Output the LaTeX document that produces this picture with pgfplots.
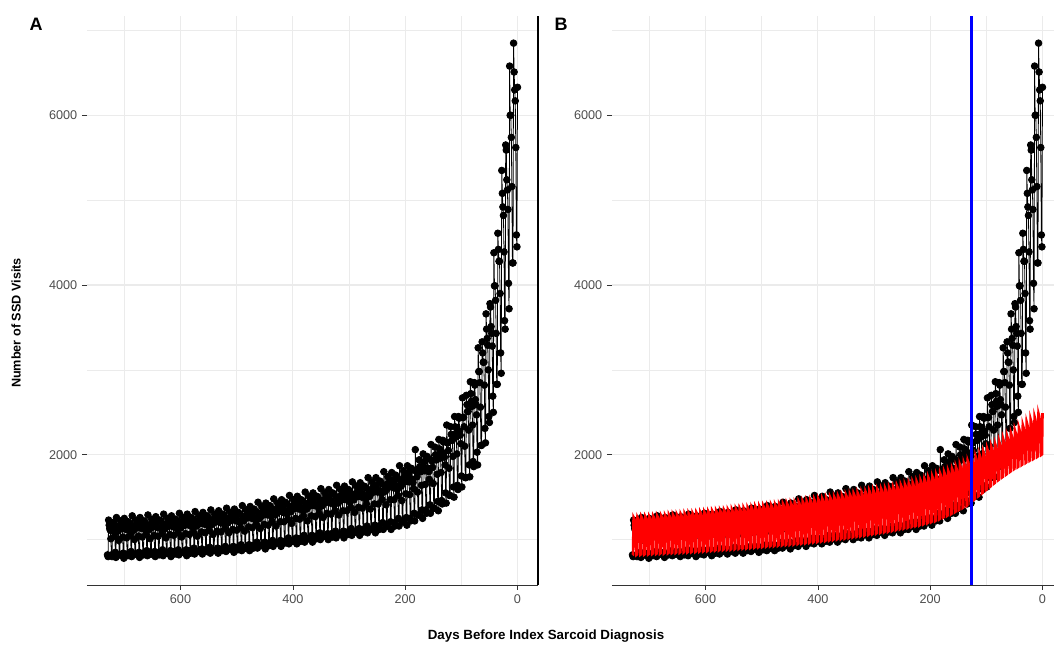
\documentclass[border=0pt]{standalone}
\usepackage{pgfplots}
\pgfplotsset{compat=1.18}
\usepackage{pgfplotstable}
\usepackage{fontspec}
\setmainfont{Liberation Sans}
\definecolor{gridgray}{RGB}{235,235,235}
\definecolor{ticktext}{RGB}{77,77,77}
\definecolor{axisgray}{RGB}{51,51,51}
% observed daily visits, day 730 ... day 0 (one week per row, Mon..Sun)
\pgfplotstableread[row sep=\\]{
v\\
820\\ 800\\
1230\\ 1170\\ 1130\\ 1110\\ 1010\\ 820\\ 800\\
1200\\ 1190\\ 1110\\ 1090\\ 1040\\ 850\\ 790\\
1260\\ 1150\\ 1150\\ 1100\\ 990\\ 820\\ 820\\
1220\\ 1170\\ 1130\\ 1130\\ 1030\\ 840\\ 780\\
1250\\ 1180\\ 1150\\ 1120\\ 1020\\ 830\\ 810\\
1210\\ 1200\\ 1130\\ 1100\\ 1050\\ 860\\ 800\\
1280\\ 1160\\ 1160\\ 1110\\ 1000\\ 830\\ 830\\
1230\\ 1180\\ 1140\\ 1140\\ 1040\\ 850\\ 790\\
1260\\ 1190\\ 1150\\ 1130\\ 1030\\ 840\\ 820\\
1220\\ 1210\\ 1130\\ 1110\\ 1060\\ 870\\ 810\\
1290\\ 1170\\ 1170\\ 1120\\ 1010\\ 830\\ 830\\
1240\\ 1190\\ 1150\\ 1150\\ 1050\\ 860\\ 800\\
1270\\ 1200\\ 1160\\ 1140\\ 1040\\ 850\\ 820\\
1230\\ 1220\\ 1140\\ 1120\\ 1070\\ 880\\ 810\\
1300\\ 1180\\ 1180\\ 1130\\ 1020\\ 840\\ 840\\
1250\\ 1200\\ 1160\\ 1160\\ 1060\\ 870\\ 800\\
1280\\ 1220\\ 1180\\ 1150\\ 1050\\ 860\\ 830\\
1240\\ 1230\\ 1150\\ 1130\\ 1080\\ 880\\ 820\\
1310\\ 1200\\ 1200\\ 1140\\ 1030\\ 850\\ 850\\
1260\\ 1210\\ 1170\\ 1170\\ 1070\\ 880\\ 810\\
1300\\ 1230\\ 1190\\ 1170\\ 1060\\ 870\\ 840\\
1260\\ 1250\\ 1170\\ 1140\\ 1090\\ 900\\ 830\\
1330\\ 1210\\ 1210\\ 1160\\ 1040\\ 860\\ 860\\
1280\\ 1230\\ 1190\\ 1190\\ 1090\\ 890\\ 830\\
1320\\ 1250\\ 1210\\ 1180\\ 1080\\ 880\\ 860\\
1280\\ 1270\\ 1190\\ 1160\\ 1110\\ 910\\ 840\\
1350\\ 1230\\ 1230\\ 1180\\ 1060\\ 870\\ 870\\
1300\\ 1250\\ 1210\\ 1210\\ 1100\\ 900\\ 840\\
1340\\ 1270\\ 1230\\ 1200\\ 1090\\ 890\\ 870\\
1300\\ 1290\\ 1210\\ 1180\\ 1130\\ 920\\ 860\\
1370\\ 1250\\ 1250\\ 1200\\ 1080\\ 890\\ 890\\
1320\\ 1270\\ 1230\\ 1230\\ 1120\\ 920\\ 850\\
1360\\ 1290\\ 1250\\ 1220\\ 1110\\ 910\\ 880\\
1320\\ 1310\\ 1220\\ 1200\\ 1140\\ 940\\ 870\\
1400\\ 1270\\ 1270\\ 1220\\ 1100\\ 900\\ 900\\
1350\\ 1300\\ 1260\\ 1260\\ 1150\\ 940\\ 870\\
1390\\ 1320\\ 1280\\ 1250\\ 1140\\ 930\\ 900\\
1360\\ 1340\\ 1260\\ 1230\\ 1180\\ 970\\ 900\\
1440\\ 1310\\ 1310\\ 1250\\ 1130\\ 930\\ 930\\
1390\\ 1330\\ 1290\\ 1290\\ 1180\\ 970\\ 890\\
1430\\ 1360\\ 1320\\ 1290\\ 1170\\ 960\\ 930\\
1400\\ 1380\\ 1300\\ 1270\\ 1210\\ 990\\ 920\\
1480\\ 1350\\ 1350\\ 1290\\ 1160\\ 960\\ 960\\
1430\\ 1370\\ 1330\\ 1330\\ 1210\\ 990\\ 920\\
1470\\ 1400\\ 1350\\ 1320\\ 1210\\ 980\\ 960\\
1440\\ 1420\\ 1330\\ 1300\\ 1240\\ 1020\\ 950\\
1520\\ 1390\\ 1390\\ 1330\\ 1190\\ 980\\ 980\\
1470\\ 1410\\ 1370\\ 1370\\ 1250\\ 1020\\ 950\\
1510\\ 1430\\ 1390\\ 1360\\ 1240\\ 1010\\ 980\\
1470\\ 1460\\ 1370\\ 1340\\ 1280\\ 1050\\ 970\\
1560\\ 1420\\ 1420\\ 1360\\ 1220\\ 1010\\ 1010\\
1510\\ 1450\\ 1400\\ 1400\\ 1280\\ 1050\\ 970\\
1550\\ 1470\\ 1430\\ 1400\\ 1270\\ 1040\\ 1010\\
1510\\ 1500\\ 1400\\ 1370\\ 1310\\ 1080\\ 1000\\
1600\\ 1460\\ 1460\\ 1400\\ 1260\\ 1040\\ 1040\\
1550\\ 1490\\ 1440\\ 1440\\ 1310\\ 1070\\ 1000\\
1590\\ 1510\\ 1460\\ 1430\\ 1300\\ 1070\\ 1030\\
1550\\ 1540\\ 1440\\ 1410\\ 1340\\ 1100\\ 1020\\
1640\\ 1500\\ 1500\\ 1430\\ 1290\\ 1060\\ 1060\\
1590\\ 1520\\ 1470\\ 1470\\ 1340\\ 1100\\ 1020\\
1630\\ 1550\\ 1500\\ 1470\\ 1340\\ 1090\\ 1060\\
1590\\ 1570\\ 1480\\ 1440\\ 1380\\ 1130\\ 1050\\
1680\\ 1530\\ 1530\\ 1470\\ 1320\\ 1090\\ 1090\\
1630\\ 1560\\ 1510\\ 1510\\ 1380\\ 1130\\ 1050\\
1670\\ 1590\\ 1540\\ 1500\\ 1370\\ 1120\\ 1090\\
1630\\ 1620\\ 1520\\ 1480\\ 1420\\ 1160\\ 1080\\
1730\\ 1580\\ 1580\\ 1510\\ 1360\\ 1120\\ 1120\\
1680\\ 1610\\ 1560\\ 1560\\ 1420\\ 1170\\ 1080\\
1730\\ 1640\\ 1590\\ 1560\\ 1420\\ 1160\\ 1120\\
1690\\ 1680\\ 1570\\ 1540\\ 1470\\ 1200\\ 1120\\
1800\\ 1640\\ 1640\\ 1570\\ 1410\\ 1160\\ 1160\\
1740\\ 1670\\ 1620\\ 1620\\ 1470\\ 1210\\ 1120\\
1790\\ 1700\\ 1650\\ 1610\\ 1470\\ 1200\\ 1160\\
1760\\ 1740\\ 1630\\ 1590\\ 1520\\ 1250\\ 1160\\
1870\\ 1700\\ 1700\\ 1630\\ 1460\\ 1210\\ 1210\\
1810\\ 1740\\ 1680\\ 1680\\ 1540\\ 1260\\ 1170\\
1870\\ 1780\\ 1720\\ 1680\\ 1530\\ 1250\\ 1220\\
1840\\ 1820\\ 1710\\ 1670\\ 1600\\ 1310\\ 1220\\
2060\\ 1810\\ 1810\\ 1740\\ 1560\\ 1290\\ 1290\\
1940\\ 1860\\ 1800\\ 1800\\ 1640\\ 1350\\ 1250\\
2010\\ 1910\\ 1850\\ 1810\\ 1650\\ 1350\\ 1310\\
1980\\ 1960\\ 1840\\ 1800\\ 1710\\ 1410\\ 1310\\
2120\\ 1930\\ 1930\\ 1850\\ 1660\\ 1370\\ 1370\\
2090\\ 2000\\ 1940\\ 1940\\ 1770\\ 1450\\ 1340\\
2180\\ 2070\\ 2010\\ 1960\\ 1790\\ 1460\\ 1420\\
2170\\ 2150\\ 2020\\ 1970\\ 1880\\ 1550\\ 1430\\
2350\\ 2140\\ 2140\\ 2050\\ 1840\\ 1520\\ 1520\\
2330\\ 2240\\ 2170\\ 2170\\ 1980\\ 1620\\ 1500\\
2450\\ 2330\\ 2250\\ 2210\\ 2010\\ 1640\\ 1590\\
2450\\ 2430\\ 2280\\ 2230\\ 2130\\ 1750\\ 1620\\
2670\\ 2440\\ 2440\\ 2330\\ 2100\\ 1730\\ 1730\\
2700\\ 2590\\ 2510\\ 2510\\ 2290\\ 1880\\ 1740\\
2860\\ 2720\\ 2630\\ 2570\\ 2350\\ 1920\\ 1860\\
2850\\ 2820\\ 2650\\ 2590\\ 2470\\ 2030\\ 1880\\
3260\\ 2980\\ 2980\\ 2850\\ 2560\\ 2110\\ 2110\\
3330\\ 3200\\ 3090\\ 3090\\ 2820\\ 2310\\ 2140\\
3660\\ 3480\\ 3370\\ 3290\\ 3000\\ 2450\\ 2380\\
3780\\ 3740\\ 3510\\ 3430\\ 3280\\ 2690\\ 2500\\
4380\\ 3990\\ 3990\\ 3820\\ 3430\\ 2830\\ 2830\\
4610\\ 4420\\ 4280\\ 4280\\ 3900\\ 3200\\ 2960\\
5350\\ 5080\\ 4920\\ 4820\\ 4390\\ 3580\\ 3480\\
5650\\ 5590\\ 5240\\ 5120\\ 4890\\ 4020\\ 3720\\
6580\\ 6000\\ 6000\\ 5740\\ 5160\\ 4260\\ 4260\\
6850\\ 6510\\ 6300\\ 6170\\ 5620\\ 4590\\ 4450\\
6330\\
}\obs
% expected (model) daily visits, day 730 ... day 0
\pgfplotstableread[row sep=\\]{
v\\
818\\ 823\\
1260\\ 1247\\ 1222\\ 1210\\ 1172\\ 820\\ 825\\
1262\\ 1249\\ 1224\\ 1212\\ 1174\\ 822\\ 827\\
1265\\ 1252\\ 1227\\ 1214\\ 1176\\ 825\\ 830\\
1267\\ 1254\\ 1229\\ 1216\\ 1178\\ 827\\ 832\\
1270\\ 1257\\ 1232\\ 1219\\ 1181\\ 830\\ 835\\
1274\\ 1261\\ 1236\\ 1223\\ 1185\\ 832\\ 837\\
1278\\ 1265\\ 1240\\ 1227\\ 1189\\ 835\\ 840\\
1281\\ 1268\\ 1243\\ 1230\\ 1191\\ 837\\ 842\\
1285\\ 1272\\ 1246\\ 1234\\ 1195\\ 840\\ 845\\
1289\\ 1276\\ 1250\\ 1237\\ 1199\\ 842\\ 847\\
1293\\ 1280\\ 1254\\ 1241\\ 1202\\ 845\\ 850\\
1296\\ 1283\\ 1257\\ 1244\\ 1205\\ 847\\ 852\\
1300\\ 1287\\ 1261\\ 1248\\ 1209\\ 850\\ 855\\
1304\\ 1291\\ 1265\\ 1252\\ 1213\\ 852\\ 857\\
1308\\ 1295\\ 1269\\ 1256\\ 1216\\ 855\\ 860\\
1311\\ 1298\\ 1272\\ 1259\\ 1219\\ 857\\ 862\\
1315\\ 1302\\ 1276\\ 1262\\ 1223\\ 860\\ 865\\
1320\\ 1307\\ 1280\\ 1267\\ 1228\\ 863\\ 868\\
1325\\ 1312\\ 1285\\ 1272\\ 1232\\ 866\\ 871\\
1330\\ 1317\\ 1290\\ 1277\\ 1237\\ 869\\ 874\\
1335\\ 1322\\ 1295\\ 1282\\ 1242\\ 873\\ 878\\
1339\\ 1326\\ 1299\\ 1285\\ 1245\\ 876\\ 881\\
1343\\ 1330\\ 1303\\ 1289\\ 1249\\ 879\\ 884\\
1346\\ 1333\\ 1306\\ 1292\\ 1252\\ 882\\ 887\\
1350\\ 1337\\ 1310\\ 1296\\ 1256\\ 885\\ 890\\
1355\\ 1341\\ 1314\\ 1301\\ 1260\\ 889\\ 894\\
1360\\ 1346\\ 1319\\ 1306\\ 1265\\ 893\\ 898\\
1365\\ 1351\\ 1324\\ 1310\\ 1269\\ 896\\ 901\\
1370\\ 1356\\ 1329\\ 1315\\ 1274\\ 900\\ 905\\
1375\\ 1361\\ 1334\\ 1320\\ 1279\\ 904\\ 909\\
1380\\ 1366\\ 1339\\ 1325\\ 1283\\ 908\\ 913\\
1385\\ 1371\\ 1343\\ 1330\\ 1288\\ 911\\ 916\\
1390\\ 1376\\ 1348\\ 1334\\ 1293\\ 915\\ 920\\
1395\\ 1381\\ 1353\\ 1339\\ 1297\\ 919\\ 924\\
1400\\ 1386\\ 1358\\ 1344\\ 1302\\ 923\\ 928\\
1405\\ 1391\\ 1363\\ 1349\\ 1307\\ 926\\ 931\\
1410\\ 1396\\ 1368\\ 1354\\ 1311\\ 930\\ 935\\
1415\\ 1401\\ 1373\\ 1358\\ 1316\\ 934\\ 939\\
1420\\ 1406\\ 1377\\ 1363\\ 1321\\ 938\\ 943\\
1425\\ 1411\\ 1382\\ 1368\\ 1325\\ 941\\ 946\\
1430\\ 1416\\ 1387\\ 1373\\ 1330\\ 945\\ 950\\
1436\\ 1422\\ 1393\\ 1379\\ 1335\\ 950\\ 955\\
1442\\ 1428\\ 1399\\ 1384\\ 1341\\ 955\\ 960\\
1449\\ 1435\\ 1406\\ 1391\\ 1348\\ 960\\ 965\\
1455\\ 1440\\ 1411\\ 1397\\ 1353\\ 965\\ 970\\
1461\\ 1446\\ 1417\\ 1403\\ 1359\\ 970\\ 975\\
1467\\ 1452\\ 1423\\ 1408\\ 1364\\ 975\\ 980\\
1474\\ 1459\\ 1430\\ 1415\\ 1371\\ 980\\ 985\\
1480\\ 1465\\ 1436\\ 1421\\ 1376\\ 985\\ 990\\
1488\\ 1473\\ 1443\\ 1428\\ 1384\\ 991\\ 996\\
1495\\ 1480\\ 1450\\ 1435\\ 1390\\ 998\\ 1003\\
1503\\ 1488\\ 1458\\ 1443\\ 1398\\ 1004\\ 1009\\
1510\\ 1495\\ 1465\\ 1450\\ 1404\\ 1010\\ 1015\\
1518\\ 1503\\ 1472\\ 1457\\ 1412\\ 1016\\ 1021\\
1525\\ 1510\\ 1479\\ 1464\\ 1418\\ 1023\\ 1028\\
1533\\ 1518\\ 1487\\ 1472\\ 1426\\ 1029\\ 1034\\
1540\\ 1525\\ 1494\\ 1478\\ 1432\\ 1035\\ 1040\\
1548\\ 1533\\ 1502\\ 1486\\ 1440\\ 1043\\ 1048\\
1555\\ 1539\\ 1508\\ 1493\\ 1446\\ 1050\\ 1055\\
1563\\ 1547\\ 1516\\ 1500\\ 1454\\ 1058\\ 1063\\
1570\\ 1554\\ 1523\\ 1507\\ 1460\\ 1065\\ 1070\\
1578\\ 1562\\ 1531\\ 1515\\ 1468\\ 1073\\ 1078\\
1585\\ 1569\\ 1537\\ 1522\\ 1474\\ 1080\\ 1085\\
1593\\ 1577\\ 1545\\ 1529\\ 1481\\ 1088\\ 1093\\
1600\\ 1584\\ 1552\\ 1536\\ 1488\\ 1095\\ 1100\\
1610\\ 1594\\ 1562\\ 1546\\ 1497\\ 1105\\ 1110\\
1620\\ 1604\\ 1571\\ 1555\\ 1507\\ 1114\\ 1119\\
1630\\ 1614\\ 1581\\ 1565\\ 1516\\ 1124\\ 1129\\
1640\\ 1624\\ 1591\\ 1574\\ 1525\\ 1133\\ 1138\\
1650\\ 1634\\ 1601\\ 1584\\ 1535\\ 1142\\ 1147\\
1660\\ 1643\\ 1610\\ 1594\\ 1544\\ 1152\\ 1157\\
1670\\ 1653\\ 1620\\ 1603\\ 1553\\ 1161\\ 1166\\
1680\\ 1663\\ 1630\\ 1613\\ 1562\\ 1170\\ 1175\\
1695\\ 1678\\ 1644\\ 1627\\ 1576\\ 1183\\ 1188\\
1710\\ 1693\\ 1659\\ 1642\\ 1590\\ 1195\\ 1200\\
1725\\ 1708\\ 1673\\ 1656\\ 1604\\ 1208\\ 1213\\
1740\\ 1723\\ 1688\\ 1670\\ 1618\\ 1220\\ 1225\\
1758\\ 1740\\ 1705\\ 1688\\ 1635\\ 1240\\ 1245\\
1775\\ 1757\\ 1722\\ 1704\\ 1651\\ 1260\\ 1265\\
1793\\ 1775\\ 1739\\ 1721\\ 1667\\ 1280\\ 1285\\
1810\\ 1792\\ 1756\\ 1738\\ 1683\\ 1300\\ 1305\\
1833\\ 1815\\ 1778\\ 1760\\ 1705\\ 1325\\ 1330\\
1855\\ 1836\\ 1799\\ 1781\\ 1725\\ 1350\\ 1355\\
1878\\ 1859\\ 1822\\ 1803\\ 1747\\ 1375\\ 1380\\
1900\\ 1881\\ 1843\\ 1824\\ 1767\\ 1400\\ 1405\\
1925\\ 1906\\ 1867\\ 1848\\ 1790\\ 1438\\ 1443\\
1950\\ 1931\\ 1892\\ 1872\\ 1814\\ 1475\\ 1480\\
1975\\ 1955\\ 1916\\ 1896\\ 1837\\ 1513\\ 1518\\
2000\\ 1980\\ 1940\\ 1920\\ 1860\\ 1550\\ 1555\\
2030\\ 2010\\ 1969\\ 1949\\ 1888\\ 1588\\ 1593\\
2060\\ 2039\\ 1998\\ 1978\\ 1916\\ 1625\\ 1630\\
2090\\ 2069\\ 2027\\ 2006\\ 1944\\ 1663\\ 1668\\
2120\\ 2099\\ 2056\\ 2035\\ 1972\\ 1700\\ 1705\\
2153\\ 2131\\ 2088\\ 2067\\ 2002\\ 1733\\ 1738\\
2185\\ 2163\\ 2119\\ 2098\\ 2032\\ 1765\\ 1770\\
2218\\ 2196\\ 2151\\ 2129\\ 2063\\ 1798\\ 1803\\
2250\\ 2228\\ 2183\\ 2160\\ 2093\\ 1830\\ 1835\\
2283\\ 2260\\ 2215\\ 2192\\ 2123\\ 1855\\ 1860\\
2315\\ 2292\\ 2246\\ 2222\\ 2153\\ 1880\\ 1885\\
2348\\ 2325\\ 2278\\ 2254\\ 2184\\ 1905\\ 1910\\
2380\\ 2356\\ 2309\\ 2285\\ 2213\\ 1930\\ 1935\\
2413\\ 2389\\ 2341\\ 2316\\ 2244\\ 1953\\ 1958\\
2445\\ 2421\\ 2372\\ 2347\\ 2274\\ 1977\\ 1982\\
2480\\ 2455\\ 2406\\ 2381\\ 2306\\ 2000\\ 2005\\
2490\\
}\fit
\pgfplotsset{
  panel/.style={
    scale only axis, height=427.05pt,
    ymin=465, ymax=7175,
    x dir=reverse, xmax=766.5,
    axis line style={draw=none},
    tick align=outside, tick pos=left,
    major tick length=3.75pt, minor tick length=0pt,
    every tick/.style={axisgray, line width=0.5pt},
    xtick={0,200,400,600}, xticklabels={0,200,400,600},
    ytick={2000,4000,6000}, yticklabels={2000,4000,6000},
    minor xtick={100,300,500,700}, minor ytick={1000,3000,5000,7000},
    grid=both,
    major grid style={gridgray, line width=0.8pt},
    minor grid style={gridgray, line width=0.5pt},
    ticklabel style={font=\fontsize{9.5}{11}\selectfont, text=ticktext},
    clip=true, clip marker paths=true,
  },
  obsplot/.style={black, line width=0.6pt, mark=*, mark size=2.5pt, mark options={solid}},
}
\begin{document}
\begin{tikzpicture}[x=1pt,y=1pt]
\useasboundingbox (0,0) rectangle (790.5,486);
\begin{axis}[panel, at={(65.25pt,47.25pt)}, anchor=south west, width=338.25pt, xmin=-36.5,
  after end axis/.append code={
    \draw[axisgray, line width=0.6pt] (rel axis cs:0,0) -- (rel axis cs:1,0);
    \draw[black, line width=0.8pt] (rel axis cs:1,0) -- (rel axis cs:1,1);
  }]
  \addplot[obsplot] table[x expr=730-\coordindex, y=v] {\obs};
\end{axis}
\begin{axis}[panel, at={(459pt,47.25pt)}, anchor=south west, width=331.5pt, xmin=-20.5,
  after end axis/.append code={
    \draw[axisgray, line width=0.6pt] (rel axis cs:0,0) -- (rel axis cs:1,0);
  }]
  \addplot[obsplot] table[x expr=730-\coordindex, y=v] {\obs};
  \addplot[red, line width=2pt, no markers] table[x expr=730-\coordindex, y=v] {\fit};
  \addplot[blue, line width=2.2pt, no markers] coordinates {(127,465) (127,7175)};
\end{axis}
\node[font=\bfseries\fontsize{13.5}{16}\selectfont] at (27,468) {A};
\node[font=\bfseries\fontsize{13.5}{16}\selectfont] at (420.75,468) {B};
\node[rotate=90, font=\bfseries\fontsize{9.5}{11}\selectfont] at (12,243.75) {Number of SSD Visits};
\node[font=\bfseries\fontsize{10}{12}\selectfont] at (409.5,9) {Days Before Index Sarcoid Diagnosis};
\end{tikzpicture}
\end{document}
